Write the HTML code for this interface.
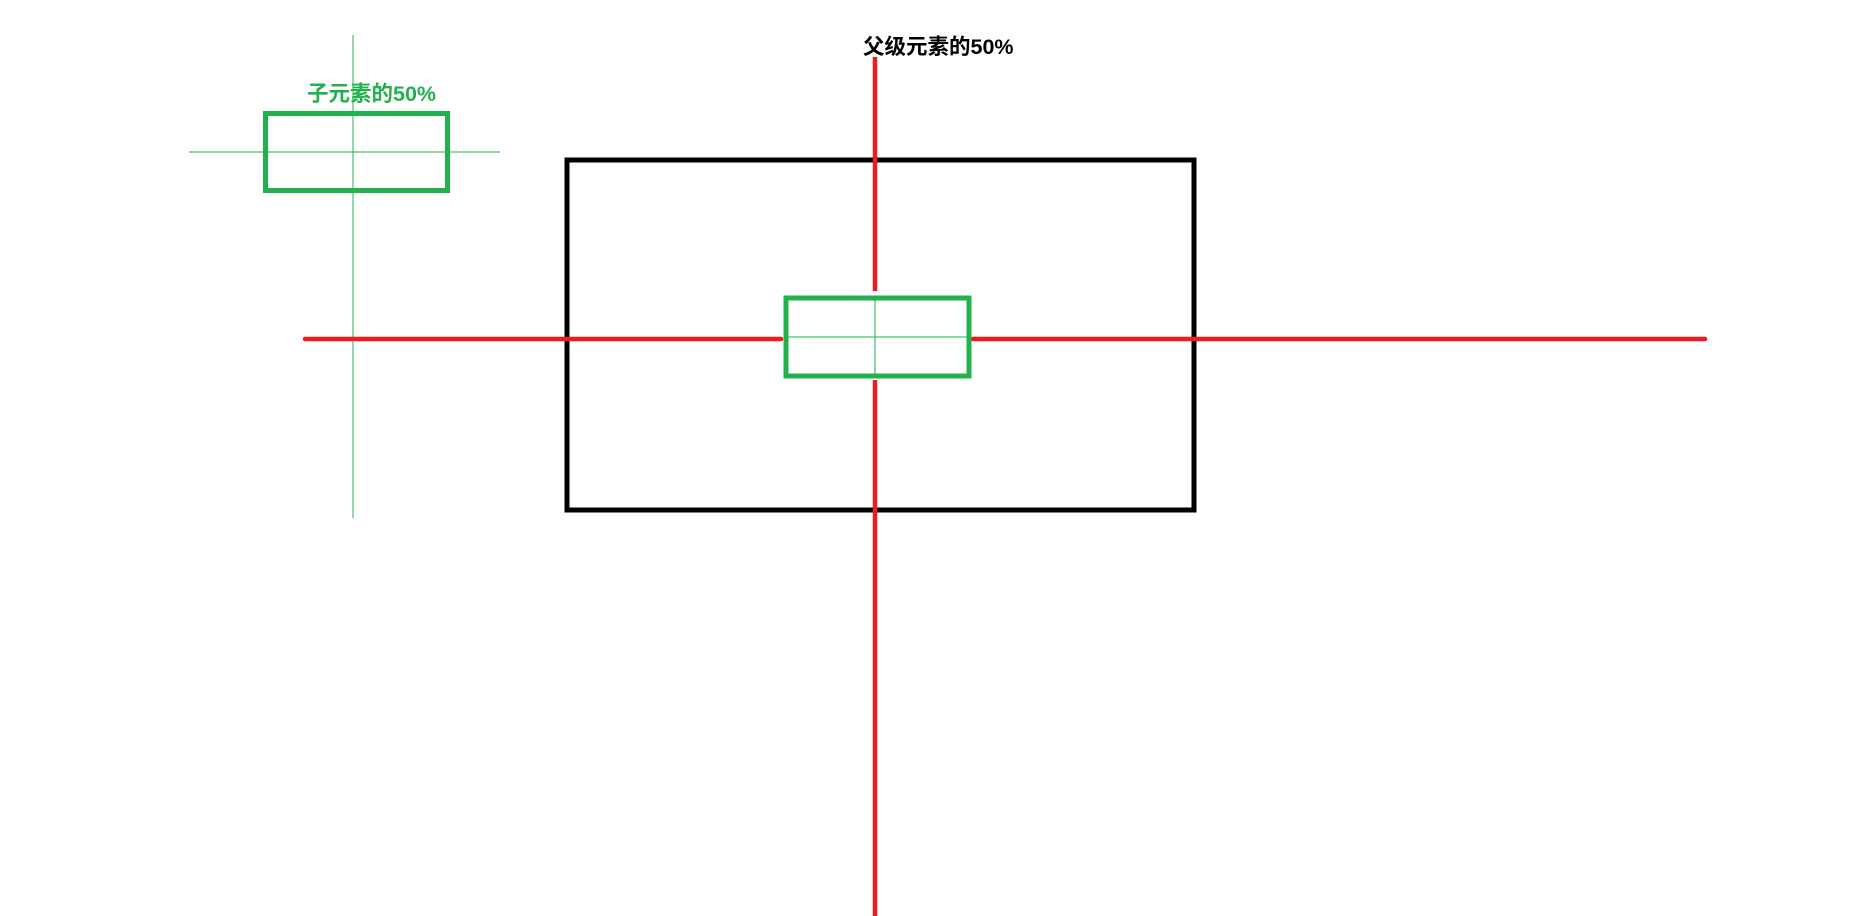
<!DOCTYPE html>
<html><head><meta charset="utf-8"><style>
html,body{margin:0;padding:0;background:#fff;width:1850px;height:916px;overflow:hidden}
svg{display:block}
text{font-family:"Liberation Sans","Noto Sans CJK SC",sans-serif;font-weight:bold;font-size:21.5px}
</style></head><body>
<svg width="1850" height="916" viewBox="0 0 1850 916">
  <g>
    <line x1="353" y1="35" x2="353" y2="518" stroke="#3aa55a" stroke-width="1"/>
    <line x1="189" y1="152" x2="500" y2="152" stroke="#22b14c" stroke-width="1"/>
    <rect x="265.5" y="113.5" width="182" height="77" fill="none" stroke="#22b14c" stroke-width="5"/>
    <text x="307" y="101" fill="#22b14c">子元素的50%</text>
  </g>
  <rect x="567" y="160" width="627" height="350" fill="none" stroke="#000" stroke-width="5"/>
  <line x1="875" y1="57" x2="875" y2="291" stroke="#ed1c24" stroke-width="4.5"/>
  <line x1="875" y1="380" x2="875" y2="916" stroke="#ed1c24" stroke-width="4.5"/>
  <line x1="305" y1="339" x2="781" y2="339" stroke="#ed1c24" stroke-width="4.5" stroke-linecap="round"/>
  <line x1="973" y1="339" x2="1705" y2="339" stroke="#ed1c24" stroke-width="4.5" stroke-linecap="round"/>
  <rect x="786" y="298" width="183" height="78" fill="none" stroke="#22b14c" stroke-width="5"/>
  <line x1="875" y1="298" x2="875" y2="376" stroke="#22b14c" stroke-width="1"/>
  <line x1="786" y1="337" x2="969" y2="337" stroke="#22b14c" stroke-width="1"/>
  <text x="863" y="54" fill="#000">父级元素的50%</text>
</svg>
</body></html>
